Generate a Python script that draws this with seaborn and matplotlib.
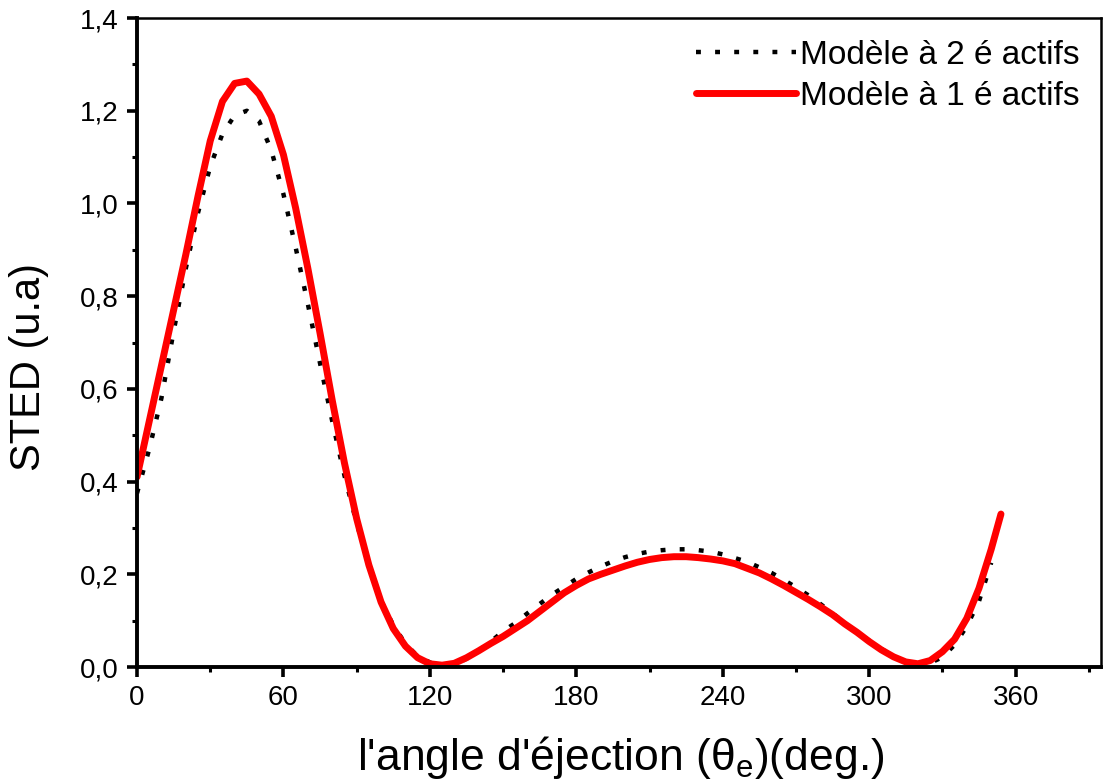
import numpy as np
import pandas as pd
import matplotlib
matplotlib.use('Agg')
import matplotlib.pyplot as plt
import seaborn as sns
from matplotlib.ticker import MultipleLocator, FuncFormatter

# angle (deg) and STED values
angle_1e = list(range(0, 355, 5)) + [354]
sted_1e = [0.41, 0.53, 0.65, 0.77, 0.89, 1.016, 1.135, 1.22, 1.259, 1.264,
           1.236, 1.188, 1.105, 0.99, 0.86, 0.72, 0.575, 0.44, 0.32, 0.22,
           0.14, 0.083, 0.045, 0.02, 0.007, 0.004, 0.008, 0.02, 0.035, 0.051,
           0.066, 0.083, 0.10, 0.12, 0.14, 0.16, 0.176, 0.19, 0.20, 0.209,
           0.218, 0.226, 0.232, 0.236, 0.238, 0.238, 0.236, 0.233, 0.229, 0.223,
           0.213, 0.203, 0.19, 0.176, 0.161, 0.146, 0.13, 0.113, 0.093, 0.075,
           0.055, 0.037, 0.022, 0.011, 0.007, 0.014, 0.033, 0.06, 0.105, 0.17,
           0.254, 0.33]

angle_2e = list(range(0, 355, 5))
sted_2e = [0.375, 0.47, 0.58, 0.724, 0.86, 0.98, 1.08, 1.15, 1.19, 1.20,
           1.178, 1.115, 1.02, 0.905, 0.783, 0.655, 0.53, 0.413, 0.31, 0.222,
           0.143, 0.09, 0.05, 0.023, 0.01, 0.004, 0.005, 0.018, 0.035, 0.055,
           0.077, 0.095, 0.116, 0.136, 0.156, 0.173, 0.19, 0.204, 0.217, 0.228,
           0.237, 0.244, 0.249, 0.252, 0.254, 0.254, 0.252, 0.249, 0.243, 0.235,
           0.227, 0.215, 0.203, 0.188, 0.172, 0.155, 0.136, 0.116, 0.095, 0.075,
           0.057, 0.039, 0.023, 0.012, 0.006, 0.009, 0.021, 0.048, 0.088, 0.142,
           0.225]

labels = ['Modèle à 2 é actifs', 'Modèle à 1 é actifs']

sns.set_style('ticks')
plt.rcParams['font.family'] = ['Liberation Sans', 'DejaVu Sans']
plt.rcParams['mathtext.fontset'] = 'custom'
plt.rcParams['mathtext.rm'] = 'Liberation Sans'
plt.rcParams['mathtext.it'] = 'Liberation Sans'
plt.rcParams['text.color'] = 'black'
plt.rcParams['axes.labelcolor'] = 'black'
plt.rcParams['xtick.color'] = 'black'
plt.rcParams['ytick.color'] = 'black'

fig = plt.figure(figsize=(11.05, 7.84), dpi=100)
ax = fig.add_axes([0.124, 0.1492, 0.8724, 0.8278])

sns.lineplot(x=angle_2e, y=sted_2e, ax=ax, color='black', lw=3.2,
             linestyle=(0, (1.1, 3.2)), label=labels[0])
sns.lineplot(x=angle_1e, y=sted_1e, ax=ax, color='#ff0000', lw=5,
             solid_joinstyle='round', label=labels[1])

ax.set_xlim(0, 395)
ax.set_ylim(0, 1.4)
ax.xaxis.set_major_locator(MultipleLocator(60))
ax.xaxis.set_minor_locator(MultipleLocator(30))
ax.yaxis.set_major_locator(MultipleLocator(0.2))
ax.yaxis.set_minor_locator(MultipleLocator(0.1))
ax.yaxis.set_major_formatter(FuncFormatter(lambda v, p: f'{v:.1f}'.replace('.', ',')))

ax.tick_params(which='major', direction='out', length=7, width=2.6,
               top=False, right=False, colors='black')
ax.tick_params(which='minor', direction='out', length=3.5, width=2.2,
               top=False, right=False, colors='black')
ax.tick_params(axis='y', labelsize=20, pad=6)
ax.tick_params(axis='x', labelsize=20, pad=6)

for side in ['left', 'bottom']:
    ax.spines[side].set_linewidth(2.8)
for side in ['top', 'right']:
    ax.spines[side].set_visible(True)
    ax.spines[side].set_linewidth(1.8)
for s in ax.spines.values():
    s.set_color('black')

ax.set_xlabel("l'angle d'éjection (θ$_{\\mathregular{e}}$)(deg.)", fontsize=32, color='black')
ax.set_ylabel('STED (u.a)', fontsize=30, color='black')
ax.xaxis.set_label_coords(0.502, -0.103)
ax.yaxis.set_label_coords(-0.091, 0.462)

leg = ax.legend(loc='upper right', frameon=False, fontsize=24, handlelength=3.0,
                handletextpad=0.1, labelspacing=0.3, borderaxespad=0.45, borderpad=0.2)
for t in leg.get_texts():
    t.set_color('black')

plt.savefig('out.png', dpi=100)
